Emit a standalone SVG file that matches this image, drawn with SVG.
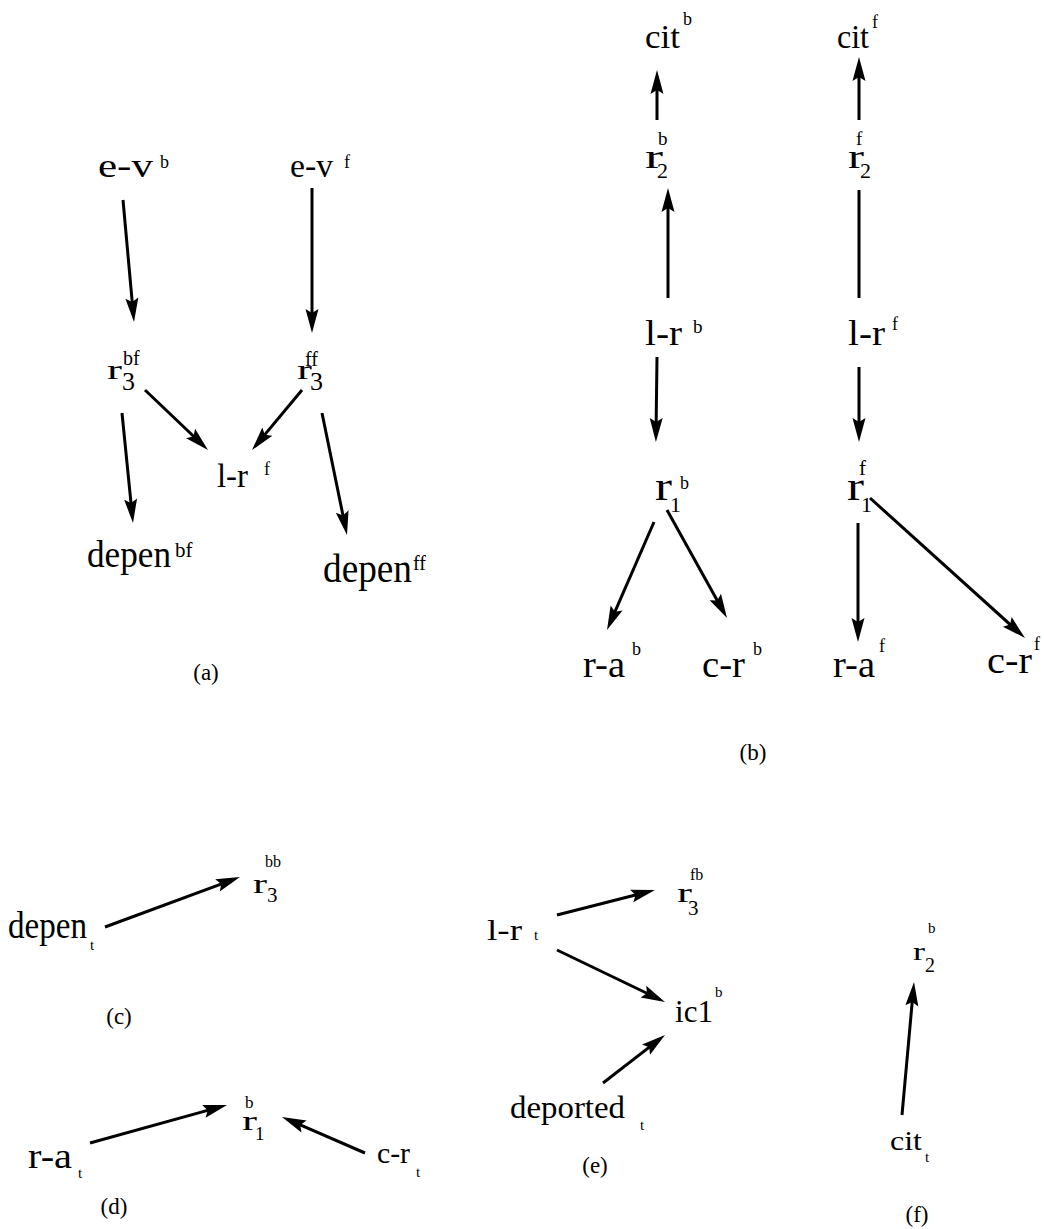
<svg xmlns="http://www.w3.org/2000/svg" width="1044" height="1229" viewBox="0 0 1044 1229">
  <style>
    text { font-family: "Liberation Serif", "Times New Roman", serif; fill: #000; }
    .cap { font-size: 23px; text-anchor: middle; }
    .sup { font-size: 18px; }
    .sub { font-size: 15px; }
    .edge { stroke: #000; stroke-width: 3; fill: none; marker-end: url(#head); }
    .plain { stroke: #000; stroke-width: 3; fill: none; }
  </style>
  <defs>
    <!-- filled arrowhead; tip sits 8 units past the end of its line -->
    <marker id="head" markerUnits="userSpaceOnUse" viewBox="-26 -8 28 16" markerWidth="28" markerHeight="16" refX="-8" refY="0" orient="auto">
      <path d="M0,0 L-24,-6.5 L-20,0 L-24,6.5 Z" fill="#000"/>
    </marker>
  </defs>
  <rect width="1044" height="1229" fill="#fff"/>

  <!-- connectors -->
  <g id="connectors">
    <!-- (a) -->
    <line class="edge" x1="123" y1="200" x2="133.3" y2="314"/>
    <line class="edge" x1="312" y1="188" x2="312" y2="325"/>
    <line class="edge" x1="145" y1="390" x2="202.2" y2="444.5"/>
    <line class="edge" x1="302" y1="390" x2="257.1" y2="443.9"/>
    <line class="edge" x1="122" y1="413" x2="132.2" y2="515"/>
    <line class="edge" x1="322" y1="413" x2="345.4" y2="527.2"/>
    <!-- (b) -->
    <line class="edge" x1="657" y1="120" x2="657" y2="78"/>
    <line class="edge" x1="859" y1="120" x2="859" y2="65"/>
    <line class="edge" x1="668" y1="298" x2="668" y2="196"/>
    <line class="plain" x1="859" y1="190" x2="859" y2="298"/>
    <line class="edge" x1="657" y1="357" x2="656" y2="434"/>
    <line class="edge" x1="859" y1="367" x2="859" y2="434"/>
    <line class="edge" x1="654" y1="522" x2="610.2" y2="622.7"/>
    <line class="edge" x1="667" y1="510" x2="723.1" y2="611"/>
    <line class="edge" x1="858" y1="523" x2="858" y2="634"/>
    <line class="edge" x1="870" y1="498" x2="1019.1" y2="632.6"/>
    <!-- (c) -->
    <line class="edge" x1="105" y1="927" x2="232.5" y2="879.8"/>
    <!-- (d) -->
    <line class="edge" x1="90" y1="1143" x2="219.3" y2="1107.1"/>
    <line class="edge" x1="365" y1="1153" x2="289.3" y2="1120.2"/>
    <!-- (e) -->
    <line class="edge" x1="557" y1="915" x2="647.2" y2="892"/>
    <line class="edge" x1="557" y1="950" x2="657.8" y2="998.5"/>
    <line class="edge" x1="603" y1="1083" x2="658.7" y2="1039.9"/>
    <!-- (f) -->
    <line class="edge" x1="902" y1="1115" x2="913.3" y2="990"/>
  </g>

  <!-- panel (a) -->
  <g id="a-ev-b">
    <text><tspan x="98" y="177" font-size="33" textLength="55" lengthAdjust="spacingAndGlyphs">e-v</tspan><tspan class="sup" x="160" y="168">b</tspan></text>
  </g>
  <g id="a-ev-f">
    <text><tspan x="290" y="177" font-size="33" textLength="43" lengthAdjust="spacingAndGlyphs">e-v</tspan><tspan class="sup" x="344" y="168">f</tspan></text>
  </g>
  <g id="a-r3-bf">
    <text><tspan x="107" y="379" font-size="27" textLength="15" lengthAdjust="spacingAndGlyphs">r</tspan><tspan x="122" y="390" font-size="26">3</tspan><tspan x="123" y="365" font-size="20">bf</tspan></text>
  </g>
  <g id="a-r3-ff">
    <text><tspan x="297" y="379" font-size="27" textLength="15" lengthAdjust="spacingAndGlyphs">r</tspan><tspan x="310" y="390" font-size="26">3</tspan><tspan x="305" y="366" font-size="20">ff</tspan></text>
  </g>
  <g id="a-lr-f">
    <text><tspan x="217" y="487" font-size="34" textLength="31" lengthAdjust="spacingAndGlyphs">l-r</tspan><tspan class="sup" x="264" y="475">f</tspan></text>
  </g>
  <g id="a-depen-bf">
    <text><tspan x="87" y="567" font-size="38" textLength="84" lengthAdjust="spacingAndGlyphs">depen</tspan><tspan x="175" y="557" font-size="21">bf</tspan></text>
  </g>
  <g id="a-depen-ff">
    <text><tspan x="323" y="582" font-size="40" textLength="89" lengthAdjust="spacingAndGlyphs">depen</tspan><tspan x="413" y="570" font-size="20">ff</tspan></text>
  </g>
  <text class="cap" x="206" y="680">(a)</text>

  <!-- panel (b) -->
  <g id="b-cit-b">
    <text><tspan x="645" y="48" font-size="33" textLength="35" lengthAdjust="spacingAndGlyphs">cit</tspan><tspan class="sup" x="683" y="25">b</tspan></text>
  </g>
  <g id="b-cit-f">
    <text><tspan x="837" y="48" font-size="33" textLength="32" lengthAdjust="spacingAndGlyphs">cit</tspan><tspan class="sup" x="872" y="28">f</tspan></text>
  </g>
  <g id="b-r2-b">
    <text><tspan x="645" y="168" font-size="34" textLength="18" lengthAdjust="spacingAndGlyphs">r</tspan><tspan x="657" y="178" font-size="22">2</tspan><tspan x="658" y="145" font-size="19">b</tspan></text>
  </g>
  <g id="b-r2-f">
    <text><tspan x="848" y="168" font-size="34" textLength="16" lengthAdjust="spacingAndGlyphs">r</tspan><tspan x="860" y="178" font-size="22">2</tspan><tspan x="856" y="145" font-size="19">f</tspan></text>
  </g>
  <g id="b-lr-b">
    <text><tspan x="645" y="345" font-size="36" textLength="37" lengthAdjust="spacingAndGlyphs">l-r</tspan><tspan x="693" y="333" font-size="19">b</tspan></text>
  </g>
  <g id="b-lr-f">
    <text><tspan x="848" y="345" font-size="36" textLength="37" lengthAdjust="spacingAndGlyphs">l-r</tspan><tspan class="sup" x="892" y="330">f</tspan></text>
  </g>
  <g id="b-r1-b">
    <text><tspan x="655" y="500" font-size="40" textLength="17" lengthAdjust="spacingAndGlyphs">r</tspan><tspan x="670" y="512" font-size="22">1</tspan><tspan class="sup" x="680" y="489">b</tspan></text>
  </g>
  <g id="b-r1-f">
    <text><tspan x="847" y="500" font-size="40" textLength="17" lengthAdjust="spacingAndGlyphs">r</tspan><tspan x="861" y="512" font-size="22">1</tspan><tspan x="859" y="475" font-size="21">f</tspan></text>
  </g>
  <g id="b-ra-b">
    <text><tspan x="583" y="677" font-size="38" textLength="42" lengthAdjust="spacingAndGlyphs">r-a</tspan><tspan class="sup" x="632" y="655">b</tspan></text>
  </g>
  <g id="b-cr-b">
    <text><tspan x="702" y="677" font-size="38" textLength="43" lengthAdjust="spacingAndGlyphs">c-r</tspan><tspan class="sup" x="753" y="655">b</tspan></text>
  </g>
  <g id="b-ra-f">
    <text><tspan x="833" y="677" font-size="38" textLength="42" lengthAdjust="spacingAndGlyphs">r-a</tspan><tspan class="sup" x="879" y="652">f</tspan></text>
  </g>
  <g id="b-cr-f">
    <text><tspan x="987" y="673" font-size="38" textLength="45" lengthAdjust="spacingAndGlyphs">c-r</tspan><tspan class="sup" x="1034" y="650">f</tspan></text>
  </g>
  <text class="cap" x="753" y="760">(b)</text>

  <!-- panel (c) -->
  <g id="c-depen-t">
    <text><tspan x="8" y="938" font-size="38" textLength="79" lengthAdjust="spacingAndGlyphs">depen</tspan><tspan class="sub" x="90" y="950">t</tspan></text>
  </g>
  <g id="c-r3-bb">
    <text><tspan x="253" y="893" font-size="28" textLength="14" lengthAdjust="spacingAndGlyphs">r</tspan><tspan x="267" y="902" font-size="21">3</tspan><tspan x="265" y="867" font-size="16">bb</tspan></text>
  </g>
  <text class="cap" x="119" y="1024">(c)</text>

  <!-- panel (d) -->
  <g id="d-ra-t">
    <text><tspan x="28" y="1168" font-size="36" textLength="44" lengthAdjust="spacingAndGlyphs">r-a</tspan><tspan class="sub" x="78" y="1178">t</tspan></text>
  </g>
  <g id="d-r1-b">
    <text><tspan x="242" y="1130" font-size="28" textLength="15" lengthAdjust="spacingAndGlyphs">r</tspan><tspan x="255" y="1140" font-size="19">1</tspan><tspan x="245" y="1108" font-size="17">b</tspan></text>
  </g>
  <g id="d-cr-t">
    <text><tspan x="377" y="1163" font-size="30" textLength="33" lengthAdjust="spacingAndGlyphs">c-r</tspan><tspan class="sub" x="416" y="1177">t</tspan></text>
  </g>
  <text class="cap" x="114" y="1214">(d)</text>

  <!-- panel (e) -->
  <g id="e-lr-t">
    <text><tspan x="487" y="940" font-size="29" textLength="35" lengthAdjust="spacingAndGlyphs">l-r</tspan><tspan class="sub" x="534" y="940">t</tspan></text>
  </g>
  <g id="e-r3-fb">
    <text><tspan x="677" y="902" font-size="28" textLength="15" lengthAdjust="spacingAndGlyphs">r</tspan><tspan x="688" y="915" font-size="21">3</tspan><tspan x="690" y="880" font-size="16">fb</tspan></text>
  </g>
  <g id="e-ic1-b">
    <text><tspan x="675" y="1022" font-size="31" textLength="38" lengthAdjust="spacingAndGlyphs">ic1</tspan><tspan x="715" y="997" font-size="15">b</tspan></text>
  </g>
  <g id="e-deported-t">
    <text><tspan x="510" y="1118" font-size="31" textLength="115" lengthAdjust="spacingAndGlyphs">deported</tspan><tspan class="sub" x="640" y="1130">t</tspan></text>
  </g>
  <text class="cap" x="595" y="1173">(e)</text>

  <!-- panel (f) -->
  <g id="f-r2-b">
    <text><tspan x="913" y="960" font-size="26" textLength="12" lengthAdjust="spacingAndGlyphs">r</tspan><tspan x="925" y="972" font-size="20">2</tspan><tspan x="928" y="933" font-size="15">b</tspan></text>
  </g>
  <g id="f-cit-t">
    <text><tspan x="890" y="1150" font-size="28" textLength="32" lengthAdjust="spacingAndGlyphs">cit</tspan><tspan class="sub" x="925" y="1162">t</tspan></text>
  </g>
  <text class="cap" x="917" y="1222">(f)</text>
</svg>
